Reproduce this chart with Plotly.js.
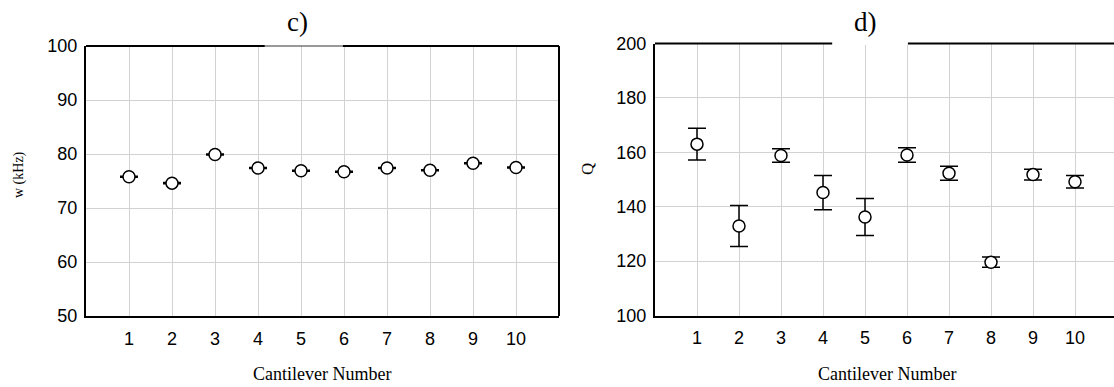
<!DOCTYPE html>
<html>
<head>
<meta charset="utf-8">
<script src="https://cdn.plot.ly/plotly-3.0.1.min.js"></script>
<style>
  html, body { margin: 0; padding: 0; background: #fff; }
  #chart { width: 1114px; height: 387px; }
</style>
</head>
<body>
<div id="chart"></div>
<script>
// Cantilever index shared by both panels
const cantilevers = [1, 2, 3, 4, 5, 6, 7, 8, 9, 10];
const xTickLabels = ['1', '2', '3', '4', '5', '6', '7', '8', '9', '10'];

// Panel c): resonance frequency w (kHz) with its spread
const freqKHz = [75.8, 74.6, 79.9, 77.4, 76.9, 76.7, 77.4, 77.0, 78.3, 77.5];
const freqErr = [0.1, 0.1, 0.1, 0.1, 0.1, 0.1, 0.1, 0.1, 0.1, 0.1];

// Panel d): quality factor Q with its spread
const qFactor = [163.0, 132.9, 158.8, 145.2, 136.2, 159.0, 152.3, 119.6, 151.8, 149.2];
const qErr = [5.8, 7.5, 2.5, 6.3, 6.8, 2.7, 2.6, 1.9, 2.0, 2.3];

// Axis ticks
const freqTicks = [50, 60, 70, 80, 90, 100];
const qTicks = [100, 120, 140, 160, 180, 200];

const W = 1114, H = 387;
const px = v => v / W;          // canvas x pixel -> paper fraction
const py = v => 1 - v / H;      // canvas y pixel -> paper fraction

const sans = 'Liberation Sans, Arial, sans-serif';
const serif = 'Liberation Serif, Times New Roman, serif';
const gridColor = '#d2d2d2';

const markerStyle = {
  symbol: 'circle', size: 12, color: '#ffffff',
  line: { color: '#000000', width: 1.5 }
};

const traces = [
  {
    x: cantilevers, y: freqKHz, type: 'scatter', mode: 'markers',
    xaxis: 'x', yaxis: 'y',
    marker: markerStyle,
    error_y: { type: 'data', array: freqErr, visible: true,
               color: '#000000', thickness: 1.5, width: 9 },
    showlegend: false, hoverinfo: 'x+y'
  },
  {
    x: cantilevers, y: qFactor, type: 'scatter', mode: 'markers',
    xaxis: 'x2', yaxis: 'y2',
    marker: markerStyle,
    error_y: { type: 'data', array: qErr, visible: true,
               color: '#000000', thickness: 1.5, width: 9 },
    showlegend: false, hoverinfo: 'x+y'
  }
];

function xAxisCfg(domain, range, anchor) {
  return {
    domain: domain, range: range, anchor: anchor,
    tickmode: 'array', tickvals: cantilevers, ticktext: xTickLabels,
    showgrid: true, gridcolor: gridColor, gridwidth: 1,
    zeroline: false, showline: true, linecolor: '#000', linewidth: 2,
    ticks: 'outside', ticklen: 5, tickcolor: 'rgba(0,0,0,0)',
    tickfont: { family: sans, size: 18, color: '#000' },
    fixedrange: true
  };
}
function yAxisCfg(domain, range, ticks, anchor) {
  return {
    domain: domain, range: range, anchor: anchor,
    tickmode: 'array', tickvals: ticks,
    showgrid: true, gridcolor: gridColor, gridwidth: 1,
    zeroline: false, showline: true, linecolor: '#000', linewidth: 2,
    ticks: 'outside', ticklen: 3, tickcolor: 'rgba(0,0,0,0)',
    tickfont: { family: sans, size: 18, color: '#000' },
    fixedrange: true
  };
}

// Frame pieces: right edge of panel c) and the interrupted top edges
const shapes = [
  { type: 'line', xref: 'x domain', yref: 'y domain', x0: 1, x1: 1, y0: 0, y1: 1,
    line: { color: '#000', width: 2 } },
  { type: 'line', xref: 'x domain', yref: 'y domain', x0: 0, x1: 0.378, y0: 1, y1: 1,
    line: { color: '#000', width: 2 } },
  { type: 'line', xref: 'x domain', yref: 'y domain', x0: 0.378, x1: 0.543, y0: 1, y1: 1,
    line: { color: '#333', width: 1 } },
  { type: 'line', xref: 'x domain', yref: 'y domain', x0: 0.543, x1: 1, y0: 1, y1: 1,
    line: { color: '#000', width: 2 } },
  { type: 'line', xref: 'x2 domain', yref: 'y2 domain', x0: 0.386, x1: 0.551, y0: 1, y1: 1,
    line: { color: '#fff', width: 3 } },
  { type: 'line', xref: 'x2 domain', yref: 'y2 domain', x0: 0, x1: 0.386, y0: 1, y1: 1,
    line: { color: '#000', width: 2 } },
  { type: 'line', xref: 'x2 domain', yref: 'y2 domain', x0: 0.551, x1: 1, y0: 1, y1: 1,
    line: { color: '#000', width: 2 } }
];

const annotations = [
  { text: 'c)', x: px(297), y: py(22), xref: 'paper', yref: 'paper',
    xanchor: 'center', yanchor: 'middle', showarrow: false,
    font: { family: serif, size: 27, color: '#000' } },
  { text: 'd)', x: px(865), y: py(22), xref: 'paper', yref: 'paper',
    xanchor: 'center', yanchor: 'middle', showarrow: false,
    font: { family: serif, size: 27, color: '#000' } },
  { text: 'Cantilever Number', x: px(322), y: py(374), xref: 'paper', yref: 'paper',
    xanchor: 'center', yanchor: 'middle', showarrow: false,
    font: { family: serif, size: 18, color: '#000' } },
  { text: 'Cantilever Number', x: px(887), y: py(374), xref: 'paper', yref: 'paper',
    xanchor: 'center', yanchor: 'middle', showarrow: false,
    font: { family: serif, size: 18, color: '#000' } },
  { text: 'w (kHz)', x: px(19), y: py(175), xref: 'paper', yref: 'paper',
    xanchor: 'center', yanchor: 'middle', showarrow: false, textangle: -90,
    font: { family: serif, size: 14, color: '#000' } },
  { text: 'Q', x: px(588), y: py(169), xref: 'paper', yref: 'paper',
    xanchor: 'center', yanchor: 'middle', showarrow: false, textangle: -90,
    font: { family: serif, size: 17, color: '#000' } }
];

const layout = {
  width: W, height: H,
  margin: { l: 0, r: 0, t: 0, b: 0, pad: 0 },
  paper_bgcolor: '#ffffff', plot_bgcolor: '#ffffff',
  showlegend: false,
  xaxis: xAxisCfg([px(86), px(559)], [0, 11], 'y'),
  yaxis: yAxisCfg([py(316), py(46)], [50, 100], freqTicks, 'x'),
  xaxis2: xAxisCfg([px(655), 1], [0, (1114 - 655) / 42], 'y2'),
  yaxis2: yAxisCfg([py(315.5), py(43.5)], [100, 200], qTicks, 'x2'),
  shapes: shapes,
  annotations: annotations
};

Plotly.newPlot('chart', traces, layout, { displayModeBar: false, staticPlot: true });
</script>
</body>
</html>
